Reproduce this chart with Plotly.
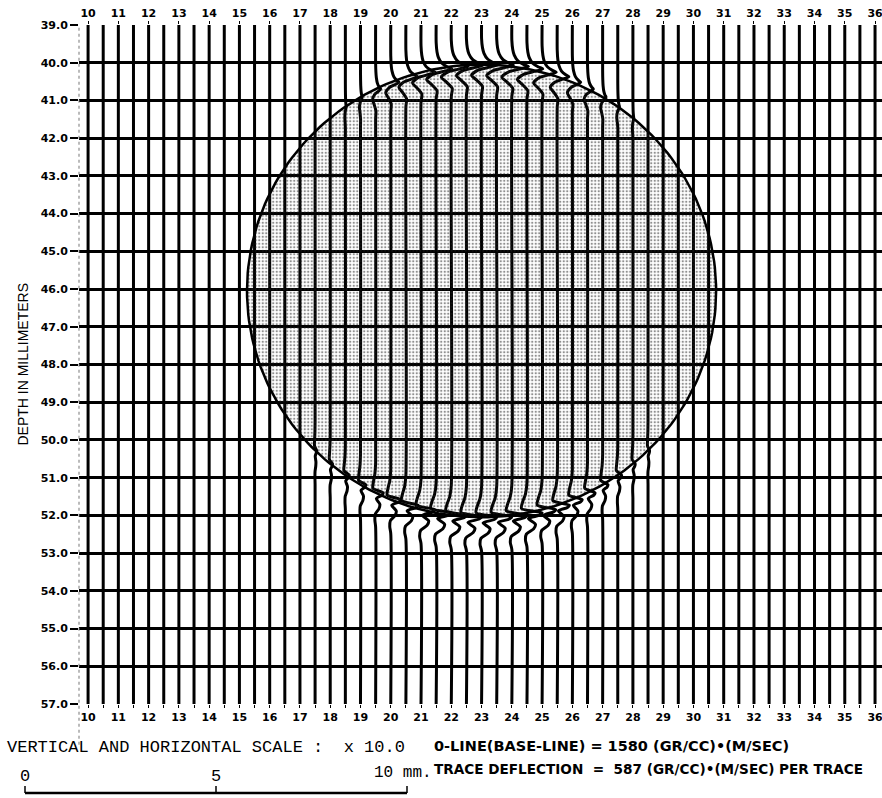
import numpy as np
import plotly.graph_objects as go

# traces every half unit, depth grid every millimetre
trace_x = np.arange(10, 36.01, 0.5)
x_ticks = list(range(10, 37))
depth_ticks = list(range(39, 58))

# circular inclusion (trace units / mm)
circle_cx, circle_cy = 23.0, 46.05
circle_rx, circle_ry = 7.75, 6.0

# reflection amplitude per trace at top and bottom of the circle
wiggle_x = [17.5, 18, 18.5, 19, 19.5, 20, 20.5, 21, 21.5, 22, 22.5, 23,
            23.5, 24, 24.5, 25, 25.5, 26, 26.5, 27, 27.5, 28, 28.5]
top_amp = [0, 0, 0.05, 0.1, 0.3, 0.5, 0.7, 0.85, 0.95, 1, 1, 1,
           1, 1, 0.95, 0.85, 0.7, 0.5, 0.35, 0.2, 0.1, 0.05, 0]
bot_amp = [0.1, 0.15, 0.25, 0.35, 0.5, 0.65, 0.8, 0.9, 1, 1, 1, 1,
           1, 1, 1, 0.9, 0.8, 0.65, 0.5, 0.35, 0.25, 0.15, 0.1]

# wavelet (depth offset mm, deflection in trace units)
top_dz = [-0.7, -0.45, -0.3, -0.15, -0.05, 0.0, 0.06, 0.14, 0.28, 0.42, 0.58, 0.8]
top_dx = [0, 0.03, 0.08, 0.2, 0.4, 0.55, 0.3, -0.1, -0.33, -0.15, 0.03, 0]
bot_dz = [-0.8, -0.5, -0.3, -0.12, 0.0, 0.06, 0.15, 0.3, 0.42, 0.56, 0.72, 0.9]
bot_dx = [0, -0.05, -0.14, -0.18, 0.5, 0.42, 0.05, 0.28, 0.22, -0.02, -0.05, 0]

fig = go.Figure()

# stippled circle (on the top axis so it gets drawn)
t = np.linspace(0, 2 * np.pi, 241)
fig.add_trace(go.Scatter(
    x=circle_cx + circle_rx * np.cos(t), y=circle_cy + circle_ry * np.sin(t),
    xaxis="x2", mode="lines", fill="toself", line=dict(color="black", width=2.5),
    fillcolor="rgba(0,0,0,0)",
    fillpattern=dict(shape=".", fgcolor="#222", size=3.5, solidity=0.35),
    hoverinfo="skip", showlegend=False))

amp_top = dict(zip(wiggle_x, top_amp))
amp_bot = dict(zip(wiggle_x, bot_amp))

for x0 in trace_x:
    xs, ys = [x0], [39.0]
    f = (x0 - circle_cx) / circle_rx
    if abs(f) < 1 and (amp_top.get(x0, 0) > 0 or amp_bot.get(x0, 0) > 0):
        h = circle_ry * np.sqrt(1 - f * f)
        a = amp_top.get(x0, 0)
        for dz, dx in zip(top_dz, top_dx):
            xs.append(x0 + a * dx)
            ys.append(circle_cy - h + dz)
        a = amp_bot.get(x0, 0)
        for dz, dx in zip(bot_dz, bot_dx):
            xs.append(x0 + a * dx)
            ys.append(circle_cy + h + dz)
    xs.append(x0)
    ys.append(57.0)
    fig.add_trace(go.Scatter(
        x=xs, y=ys, mode="lines",
        line=dict(color="black", width=3, shape="spline", smoothing=0.7),
        hoverinfo="skip", showlegend=False))

tickfont = dict(family="DejaVu Sans", size=11, color="black", weight="bold")

fig.update_layout(
    width=882, height=798,
    margin=dict(l=79, r=0, t=25, b=94),
    paper_bgcolor="white", plot_bgcolor="white",
    xaxis=dict(range=[9.70, 36.23], tickvals=x_ticks, ticktext=[str(v) for v in x_ticks],
               showgrid=False, zeroline=False, ticks="outside", ticklen=3,
               tickcolor="black", tickfont=tickfont, automargin=False,
               ticklabeloverflow="allow",
               minor=dict(dtick=0.5, ticks="outside", ticklen=3, tickcolor="black")),
    xaxis2=dict(range=[9.70, 36.23], overlaying="x", side="top", anchor="y",
                tickvals=x_ticks, ticktext=[str(v) for v in x_ticks],
                showgrid=False, zeroline=False, ticks="outside", ticklen=3,
                tickcolor="black", tickfont=tickfont, automargin=False,
                ticklabeloverflow="allow"),
    yaxis=dict(range=[57, 39], tickvals=depth_ticks,
               ticktext=[f"{v:.1f}" for v in depth_ticks],
               showgrid=True, gridcolor="black", gridwidth=2.8, zeroline=False,
               ticks="outside", ticklen=8, tickwidth=2, tickcolor="black",
               tickfont=tickfont, automargin=False),
)

# dotted left frame
fig.add_shape(type="line", xref="paper", yref="paper", x0=0, x1=0, y0=-0.06, y1=1.0,
              line=dict(color="#777", width=1, dash="dot"))

fig.add_annotation(text="DEPTH IN MILLIMETERS", xref="paper", yref="paper",
                   x=-0.0834, y=0.5, textangle=-90, showarrow=False,
                   font=dict(family="Liberation Sans", size=14, color="black"))

fig.add_annotation(text="VERTICAL AND HORIZONTAL SCALE :\u00a0\u00a0x 10.0",
                   xref="paper", yref="paper", x=(5 - 79) / 803, y=-0.0648,
                   xanchor="left", yanchor="middle", showarrow=False,
                   font=dict(family="Liberation Mono", size=17, color="black"))
fig.add_annotation(text="0-LINE(BASE-LINE) = 1580 (GR/CC)•(M/SEC)",
                   xref="paper", yref="paper", x=(432 - 79) / 803, y=-0.0619,
                   xanchor="left", yanchor="middle", showarrow=False,
                   font=dict(family="DejaVu Sans", size=14.5, color="black", weight="bold"))
fig.add_annotation(text="TRACE DEFLECTION\u00a0\u00a0=\u00a0 587 (GR/CC)•(M/SEC) PER TRACE",
                   xref="paper", yref="paper", x=(432 - 79) / 803, y=-0.0957,
                   xanchor="left", yanchor="middle", showarrow=False,
                   font=dict(family="DejaVu Sans", size=13.6, color="black", weight="bold"))

# scale bar
for label, px in [("0", 25), ("5", 216)]:
    fig.add_annotation(text=label, xref="paper", yref="paper", x=(px - 79) / 803,
                       y=-0.1075, xanchor="center", yanchor="middle", showarrow=False,
                       font=dict(family="Liberation Mono", size=17, color="black"))
fig.add_annotation(text="10 mm.", xref="paper", yref="paper", x=(372 - 79) / 803,
                   y=-0.1016, xanchor="left", yanchor="middle", showarrow=False,
                   font=dict(family="Liberation Mono", size=16, color="black"))
bar_y = (704 - 793) / 679
tick_y = (704 - 786) / 679
fig.add_shape(type="line", xref="paper", yref="paper",
              x0=(25 - 79) / 803, x1=(407 - 79) / 803, y0=bar_y, y1=bar_y,
              line=dict(color="black", width=2.5))
for px in [25, 216, 407]:
    fig.add_shape(type="line", xref="paper", yref="paper",
                  x0=(px - 79) / 803, x1=(px - 79) / 803, y0=bar_y, y1=tick_y,
                  line=dict(color="black", width=1.5))

fig.write_html("out.html", config={"displayModeBar": False},
               post_script="document.body.style.margin='0';")
